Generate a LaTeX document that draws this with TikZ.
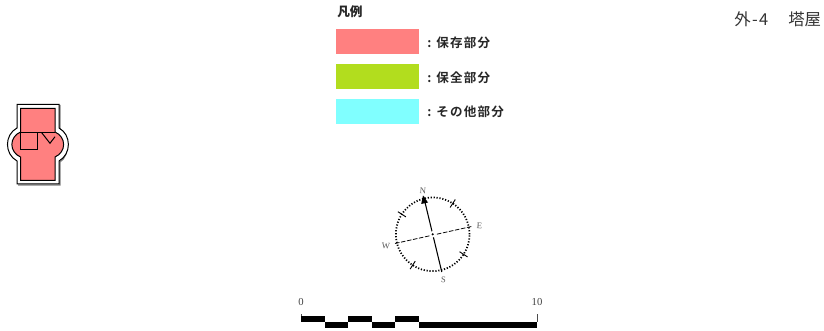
\documentclass[tikz,border=0pt]{standalone}
\usepackage{fontspec}
\newfontfamily\cjk[LetterSpace=10,BoldFont={Noto Sans CJK JP Bold}]{Noto Sans CJK JP}
\newfontfamily\cjkt{Noto Sans CJK JP}
\setmainfont{Liberation Serif}
\definecolor{pinkfill}{HTML}{FF8080}
\definecolor{greenfill}{HTML}{B2DD1E}
\definecolor{cyanfill}{HTML}{80FFFF}
\definecolor{lettergray}{HTML}{555555}
\tikzset{
  legendbox/.style={minimum width=62.25pt,minimum height=18.4pt,inner sep=0pt,draw=none},
  legendtext/.style={anchor=west,inner sep=0pt,font=\cjk\fontsize{9.4}{10}\selectfont\bfseries,text=black!85},
  compassletter/.style={inner sep=0pt,text=lettergray,font=\fontsize{6.5}{7}\selectfont},
  scalelabel/.style={inner sep=0pt,text=black!75,font=\fontsize{8}{9}\selectfont},
  titletext/.style={anchor=west,inner sep=0pt,text=black!80,font=\cjkt\fontsize{12.3}{13}\selectfont},
  plan/.style={line width=.75pt,draw=black},
}
\begin{document}
\begin{tikzpicture}[x=.75pt,y=-.75pt]
\useasboundingbox (0,0) rectangle (824,331);
% title
\node[titletext] (tnum) at (734,19) {外\hspace{1pt}-\hspace{1pt}4};
\node[titletext] (tname) at (788,19) {塔屋};
% legend
\node[anchor=west,inner sep=0pt,text=black!85,font=\cjkt\fontsize{9.5}{10}\selectfont\bfseries] (ltitle) at (337,12) {凡例};
\node[legendbox,fill=pinkfill] (l1) at (377.5,41.5) {};
\node[legendbox,fill=greenfill] (l2) at (377.5,76.5) {};
\node[legendbox,fill=cyanfill] (l3) at (377.5,111.5) {};
\node[legendtext] (c1) at (427,44) {:};
\node[legendtext] (c2) at (427,79) {:};
\node[legendtext] (c3) at (427,113.5) {:};
\node[legendtext] (t1) at (436,42.5) {保存部分};
\node[legendtext] (t2) at (436,77.5) {保全部分};
\node[legendtext] (t3) at (436,112) {その他部分};
% plan: shadow
\draw[line width=1pt,draw=black!50,shift={(1,1)}]
  (59,104) -- (59,128) .. controls (69,134) and (69,154) .. (59,161) -- (59,184) -- (17,184);
% plan: wall outline
\draw[plan,fill=white]
  (17,104.5) -- (59,104.5) -- (59,128) .. controls (71.5,134.8) and (71.5,154) .. (59,161)
  -- (59,184) -- (17,184) -- (17,161) .. controls (4.3,154) and (4.3,134.8) .. (17,128) -- cycle;
% plan: body
\draw[plan,fill=pinkfill]
  (20.5,108.5) -- (55,108.5) -- (55,132) .. controls (66.5,137) and (66.5,152) .. (55,157)
  -- (55,180.5) -- (20.5,180.5) -- (20.5,157) .. controls (9,152) and (9,137) .. (20.5,132) -- cycle;
\draw[plan] (20.5,132.7) -- (55,132.7);
\draw[plan] (20.5,132.7) rectangle (37.5,150);
\draw[plan] (41.7,132.7) -- (50,143.3) -- (55,136.7);
% compass
\coordinate (cc) at (432.7,234.3);
\coordinate (cn) at (423.6,196.5);
\coordinate (cs) at (441.8,272);
\coordinate (ce) at (471.5,226.5);
\coordinate (cw) at (395,243.5);
\draw[line width=1.3pt,dash pattern=on .9pt off 1.3pt] (cc) circle[radius=27.6pt];
\draw[line width=.8pt] (cn) -- (cs);
\draw[line width=.6pt,dash pattern=on 3.4pt off 1.2pt] (cw) -- (ce);
\fill[white] (cc) circle[radius=3.2];
\fill (cc) circle[radius=1.2];
\fill (423,195.5) -- (428,202.5) -- (421.2,204) -- cycle;
\foreach \a in {33,123,213,303}{
  \draw[line width=.7pt] (cc) ++(\a:32) -- ++(\a:9.5);
}
\node[compassletter,rotate=-4] (nN) at (423,190.5) {N};
\node[compassletter,rotate=-4] (nE) at (479.5,225.5) {E};
\node[compassletter,rotate=-4] (nS) at (443.5,279.5) {S};
\node[compassletter,rotate=-4] (nW) at (386,246.5) {W};
% scale
\coordinate (s0) at (301,314);
\coordinate (s1) at (537,314);
\draw[line width=.6pt,black!70] (s0) -- (301,322);
\draw[line width=.6pt,black!70] (s1) -- (537,322);
\fill (301,316) rectangle (325,322);
\fill (325,322) rectangle (348,328);
\fill (348,316) rectangle (372,322);
\fill (372,322) rectangle (395,328);
\fill (395,316) rectangle (419,322);
\fill (419,322) rectangle (537,328);
\node[scalelabel] (z0) at (301,302) {0};
\node[scalelabel] (z1) at (537,302) {10};
\end{tikzpicture}
\end{document}
